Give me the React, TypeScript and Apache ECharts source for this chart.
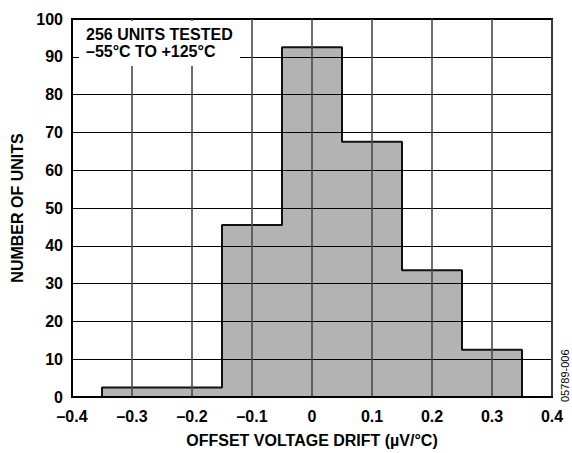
import React, { useEffect, useRef } from "react";
import * as echarts from "echarts";

// Histogram bins (edges in µV/°C) and counts
const binEdges = [-0.35, -0.25, -0.15, -0.05, 0.05, 0.15, 0.25, 0.35];
const binCounts = [2.5, 2.5, 45.5, 92.5, 67.5, 33.5, 12.5];
const xTicks = { min: -0.4, max: 0.4, interval: 0.1 };
const yTicks = { min: 0, max: 100, interval: 10 };
const noteLines = ["256 UNITS TESTED", "–55°C TO +125°C"];
const xTitle = "OFFSET VOLTAGE DRIFT (µV/°C)";
const yTitle = "NUMBER OF UNITS";
const figId = "05789-006";

const FONT = "'Liberation Sans', Arial, Helvetica, sans-serif";

function outlinePoints(): number[][] {
  const pts: number[][] = [[binEdges[0], 0]];
  for (let i = 0; i < binCounts.length; i++) {
    pts.push([binEdges[i], binCounts[i]]);
    pts.push([binEdges[i + 1], binCounts[i]]);
  }
  pts.push([binEdges[binEdges.length - 1], 0]);
  return pts;
}

function fmt(v: number): string {
  const r = Math.round(v * 10) / 10;
  if (Math.abs(r) < 1e-9) return "0";
  const s = Math.abs(r).toFixed(1);
  return r < 0 ? "–" + s : s;
}

export default function App() {
  const ref = useRef<HTMLDivElement>(null);
  useEffect(() => {
    if (!ref.current) return;
    const chart = echarts.init(ref.current, undefined, { renderer: "svg" });
    chart.setOption({
      animation: false,
      backgroundColor: "#fff",
      grid: {
        left: 72,
        top: 19,
        width: 480,
        height: 383,
        show: true,
        borderColor: "#000",
        borderWidth: 2,
        backgroundColor: "transparent",
      },
      xAxis: {
        type: "value",
        min: xTicks.min,
        max: xTicks.max,
        interval: xTicks.interval,
        z: 3,
        name: xTitle,
        nameLocation: "middle",
        nameGap: 35,
        nameTextStyle: { fontFamily: FONT, fontWeight: "bold", fontSize: 16, color: "#000" },
        axisLine: { show: true, onZero: false, lineStyle: { color: "#000", width: 2 } },
        axisTick: { show: false },
        axisLabel: {
          formatter: (v: number) => fmt(v),
          fontFamily: FONT,
          fontWeight: "bold",
          fontSize: 16,
          color: "#000",
          margin: 11,
          showMinLabel: true,
          showMaxLabel: true,
        },
        splitLine: { show: true, lineStyle: { color: "#4a4a4a", width: 1.6 } },
      },
      yAxis: {
        type: "value",
        min: yTicks.min,
        max: yTicks.max,
        interval: yTicks.interval,
        z: 3,
        name: yTitle,
        nameLocation: "middle",
        nameGap: 46,
        nameRotate: 90,
        nameTextStyle: { fontFamily: FONT, fontWeight: "bold", fontSize: 16, color: "#000" },
        axisLine: { show: true, onZero: false, lineStyle: { color: "#000", width: 2 } },
        axisTick: { show: false },
        axisLabel: {
          fontFamily: FONT,
          fontWeight: "bold",
          fontSize: 16,
          color: "#000",
          margin: 9,
        },
        splitLine: { show: true, lineStyle: { color: "#000", width: 1.2 } },
      },
      series: [
        {
          type: "line",
          z: 1,
          data: outlinePoints(),
          symbol: "none",
          lineStyle: { color: "#111", width: 2 },
          areaStyle: { color: "#b3b3b3", opacity: 1, origin: "start" },
        },
      ],
      graphic: [
        {
          type: "rect",
          z: 10,
          shape: { x: 79, y: 21, width: 161, height: 45 },
          style: { fill: "#fff" },
        },
        {
          type: "text",
          z: 11,
          left: 86,
          top: 26,
          style: {
            text: noteLines.join("\n"),
            fontFamily: FONT,
            fontWeight: "bold",
            fontSize: 16,
            lineHeight: 17,
            fill: "#000",
          },
        },
        {
          type: "text",
          z: 11,
          x: 559,
          y: 402,
          rotation: Math.PI / 2,
          style: {
            text: figId,
            fontFamily: FONT,
            fontSize: 11,
            fill: "#000",
            textVerticalAlign: "top",
          },
        },
      ],
    });
    return () => chart.dispose();
  }, []);
  return (
    <div
      ref={ref}
      style={{ position: "fixed", left: 0, top: 0, width: 572, height: 453 }}
    />
  );
}
